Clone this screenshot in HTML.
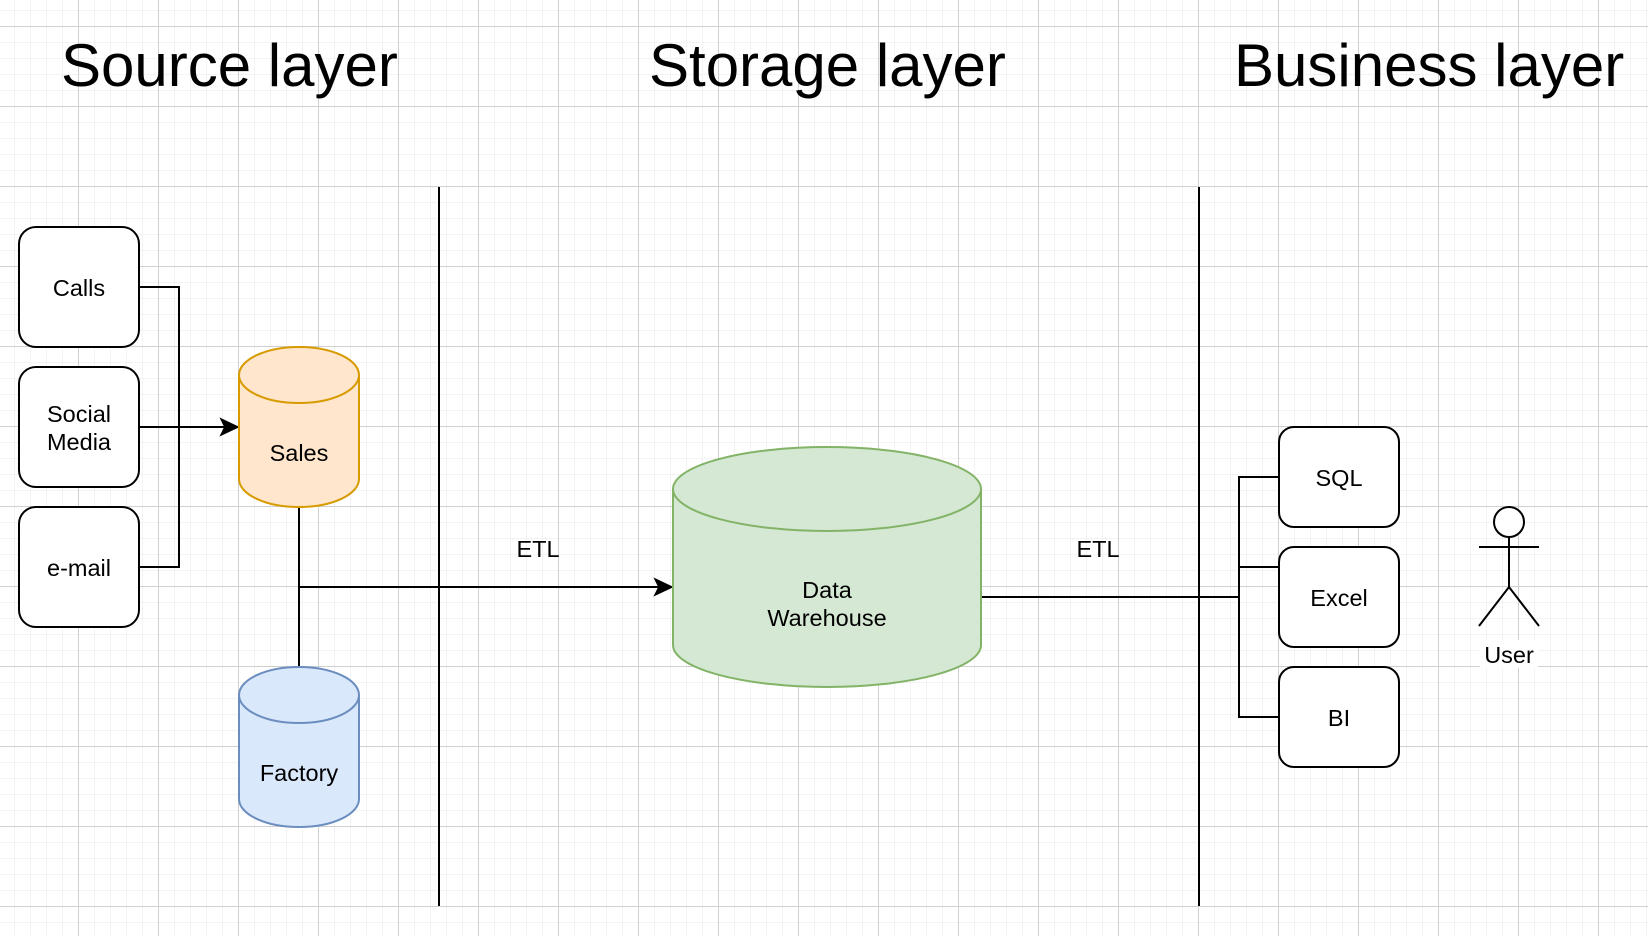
<!DOCTYPE html>
<html><head><meta charset="utf-8"><style>
html,body{margin:0;padding:0;background:#fff}
svg{display:block}
text{font-family:"Liberation Sans",Arial,sans-serif;fill:#000}
</style></head><body>
<svg width="1648" height="936" viewBox="0 0 1648 936" xmlns="http://www.w3.org/2000/svg">
<defs>
<pattern id="minor" x="-2" y="26" width="16" height="16" patternUnits="userSpaceOnUse">
<path d="M0 0.5H16M0.5 0V16" stroke="#f3f3f3" stroke-width="1" fill="none"/>
</pattern>
<pattern id="major" x="-2" y="26" width="80" height="80" patternUnits="userSpaceOnUse">
<path d="M0 0.5H80M0.5 0V80" stroke="#d0d0d0" stroke-width="1" fill="none"/>
</pattern>
</defs>
<rect width="1648" height="936" fill="#fff"/>
<rect width="1648" height="936" fill="url(#minor)"/>
<rect width="1648" height="936" fill="url(#major)"/>

<text x="61" y="86" font-size="60">Source layer</text>
<text x="649" y="86" font-size="60">Storage layer</text>
<text x="1234" y="86" font-size="60">Business layer</text>

<line x1="439" y1="187" x2="439" y2="906" stroke="#000" stroke-width="2"/>
<line x1="1199" y1="187" x2="1199" y2="906" stroke="#000" stroke-width="2"/>

<g fill="none" stroke="#000" stroke-width="2">
<path d="M139 287H179V567H139"/>
<path d="M139 427H228"/>
<path d="M299 507V667"/>
<path d="M299 587H662"/>
<path d="M981 597H1239"/>
<path d="M1279 477H1239V717H1279M1239 567H1279"/>
</g>
<path d="M238 427L221 419L225 427L221 435Z" fill="#000" stroke="#000" stroke-width="1.5"/>
<path d="M672 587L655 579L659 587L655 595Z" fill="#000" stroke="#000" stroke-width="1.5"/>

<g fill="#fff" stroke="#000" stroke-width="2">
<rect x="19" y="227" width="120" height="120" rx="17"/>
<rect x="19" y="367" width="120" height="120" rx="17"/>
<rect x="19" y="507" width="120" height="120" rx="17"/>
<rect x="1279" y="427" width="120" height="100" rx="15"/>
<rect x="1279" y="547" width="120" height="100" rx="15"/>
<rect x="1279" y="667" width="120" height="100" rx="15"/>
</g>
<g font-size="23.5" text-anchor="middle">
<text x="79" y="296">Calls</text>
<text x="79" y="422">Social</text>
<text x="79" y="450">Media</text>
<text x="79" y="576">e-mail</text>
<text x="1339" y="486">SQL</text>
<text x="1339" y="606">Excel</text>
<text x="1339" y="726">BI</text>
</g>

<path d="M239 375V479A60 28 0 0 0 359 479V375A60 28 0 0 0 239 375Z" fill="#ffe6cc" stroke="#d79b00" stroke-width="2"/>
<path d="M239 375A60 28 0 0 0 359 375" fill="none" stroke="#d79b00" stroke-width="2"/>
<text x="299" y="461" font-size="23.5" text-anchor="middle">Sales</text>

<path d="M239 695V799A60 28 0 0 0 359 799V695A60 28 0 0 0 239 695Z" fill="#dae8fc" stroke="#6c8ebf" stroke-width="2"/>
<path d="M239 695A60 28 0 0 0 359 695" fill="none" stroke="#6c8ebf" stroke-width="2"/>
<text x="299" y="781" font-size="23.5" text-anchor="middle">Factory</text>

<path d="M673 489V645A154 42 0 0 0 981 645V489A154 42 0 0 0 673 489Z" fill="#d5e8d4" stroke="#82b366" stroke-width="2"/>
<path d="M673 489A154 42 0 0 0 981 489" fill="none" stroke="#82b366" stroke-width="2"/>
<text x="827" y="598" font-size="23.5" text-anchor="middle">Data</text>
<text x="827" y="626" font-size="23.5" text-anchor="middle">Warehouse</text>

<text x="538" y="557" font-size="23.5" text-anchor="middle">ETL</text>
<text x="1098" y="557" font-size="23.5" text-anchor="middle">ETL</text>

<g fill="none" stroke="#000" stroke-width="2">
<circle cx="1509" cy="522" r="15" fill="#fff"/>
<path d="M1509 537V587M1479 547H1539M1479 626L1509 587L1539 626"/>
</g>
<rect x="1480" y="640" width="58" height="28" fill="#fff"/>
<text x="1509" y="663" font-size="23.5" text-anchor="middle">User</text>
</svg>
</body></html>
